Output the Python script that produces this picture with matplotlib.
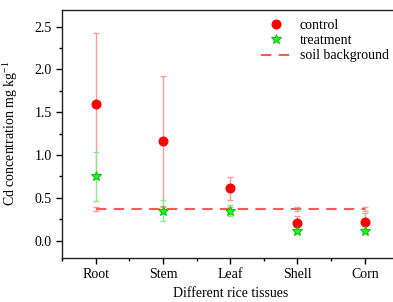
import matplotlib
matplotlib.use("Agg")
import matplotlib.pyplot as plt
from matplotlib.ticker import MultipleLocator

categories = ["Root", "Stem", "Leaf", "Shell", "Corn"]
control = [1.60, 1.16, 0.61, 0.20, 0.22]
control_err = [0.83, 0.76, 0.13, 0.09, 0.10]
treatment = [0.75, 0.35, 0.35, 0.11, 0.11]
treatment_err = [0.29, 0.12, 0.06, 0.02, 0.02]
soil = [0.37, 0.37, 0.37, 0.37, 0.37]
soil_err = [0.02, 0.02, 0.02, 0.02, 0.02]

plt.rcParams['font.family'] = ['Liberation Serif', 'DejaVu Serif']
plt.rcParams['mathtext.fontset'] = 'custom'
plt.rcParams['mathtext.rm'] = 'Liberation Serif'
plt.rcParams['mathtext.it'] = 'Liberation Serif:italic'
fig = plt.figure(figsize=(3.93, 3.02), dpi=100)
ax = fig.add_axes([62/393, 1-257.7/302, (398.4-62)/393, (257.7-9.5)/302])
x = list(range(1, len(categories)+1))

ax.errorbar(x, soil, yerr=soil_err, fmt='none', ecolor=(1, 0.6, 0.6), elinewidth=1, capsize=2.2, capthick=1, zorder=1)
ax.plot(x, soil, color=(1, 0.35, 0.35), linestyle=(0, (5, 3.5)), linewidth=1.5, label='soil background', zorder=2)
ax.errorbar(x, control, yerr=control_err, fmt='none', ecolor=(1, 0.6, 0.6), elinewidth=1, capsize=2.2, capthick=1, zorder=3)
ax.errorbar(x, treatment, yerr=treatment_err, fmt='none', ecolor=(0.55, 0.92, 0.55), elinewidth=1, capsize=2.2, capthick=1, zorder=4)
ax.plot(x, control, 'o', color='red', markersize=6.2, linestyle='none', label='control', zorder=5)
ax.plot(x, treatment, '*', color=(0.1, 1.0, 0.1), markeredgecolor=(0.1, 0.75, 0.1), markeredgewidth=0.8, markersize=7.5, linestyle='none', label='treatment', zorder=6)

ax.set_xlim(0.5, 5.5)
ax.set_ylim(-0.2, 2.7)
ax.set_xticks(x)
ax.set_xticklabels(categories)
ax.xaxis.set_minor_locator(MultipleLocator(0.5))
ax.yaxis.set_minor_locator(MultipleLocator(0.25))
ax.set_yticks([0.0, 0.5, 1.0, 1.5, 2.0, 2.5])
ax.set_yticklabels(['0.0', '0.5', '1.0', '1.5', '2.0', '2.5'])
ax.tick_params(axis='both', which='major', direction='out', length=4, labelsize=10, width=1)
ax.tick_params(axis='both', which='minor', direction='out', length=2.5, width=1)
ax.tick_params(top=False, right=False, which='both')
for s in ax.spines.values():
    s.set_linewidth(1)
    s.set_color('#222222')

ax.set_xlabel('Different rice tissues', fontsize=10, labelpad=4)
ax.set_ylabel('Cd concentration mg kg$^{-1}$', fontsize=10, labelpad=10)

handles, labels = ax.get_legend_handles_labels()
order = [1, 2, 0]
ax.legend([handles[i] for i in order], [labels[i] for i in order], loc='upper right',
          bbox_to_anchor=(1.0, 1.0), frameon=False, fontsize=10, handlelength=2.2,
          labelspacing=0.15, borderaxespad=0.3, handletextpad=0.6)

fig.savefig('out.png', dpi=100)
